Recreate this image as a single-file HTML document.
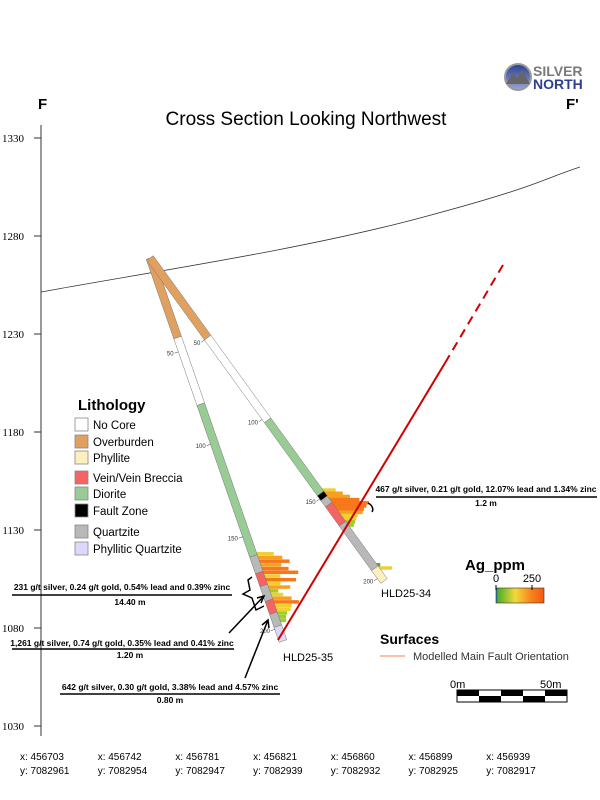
<!DOCTYPE html>
<html><head><meta charset="utf-8"><style>
html,body{margin:0;padding:0;background:#fff;}
svg{display:block;font-family:"Liberation Sans",sans-serif;}
</style></head><body>
<svg id="chart" width="600" height="800" viewBox="0 0 600 800">
<defs>
<linearGradient id="agGrad" x1="0" x2="1" y1="0" y2="0">
<stop offset="0" stop-color="#1f5fd0"/><stop offset="0.04" stop-color="#4caf2a"/><stop offset="0.4" stop-color="#f3d83a"/><stop offset="0.75" stop-color="#f7801c"/><stop offset="1" stop-color="#f25a10"/>
</linearGradient>
<linearGradient id="logoGrad" x1="0" y1="0" x2="0" y2="1"><stop offset="0" stop-color="#2c3f8f"/><stop offset="1" stop-color="#9aa6d8"/></linearGradient>
</defs>
<g id="logo">
<circle cx="518" cy="77" r="13" fill="url(#logoGrad)" stroke="#9a9a9a" stroke-width="2"/>
<path d="M506,84 L513,73 L517,78 L522,70 L530,84 Z" fill="#666"/>
<text x="533" y="76" font-size="14" font-weight="bold" fill="#7a7a7a">SILVER</text>
<text x="533" y="89" font-size="14" font-weight="bold" fill="#2c3f8f">NORTH</text>
</g>
<text x="38" y="109" font-size="15" font-weight="bold">F</text>
<text x="566" y="109" font-size="15" font-weight="bold">F'</text>
<text x="306" y="125" font-size="19" text-anchor="middle">Cross Section Looking Northwest</text>
<g id="yaxis"></g>
<g id="xlabels"></g>
<path d="M41,292 C150,272 300,250 420,218 S540,180 580,167" fill="none" stroke="#333" stroke-width="0.8"/>
<g id="holes"></g>
<line x1="278" y1="640" x2="445" y2="363" stroke="#d10000" stroke-width="2"/>
<line x1="445" y1="363" x2="503" y2="265" stroke="#d10000" stroke-width="2" stroke-dasharray="9,6"/>
<g id="legend">
<text x="78" y="410" font-size="15" font-weight="bold">Lithology</text>
</g>
<g font-size="8.5" font-weight="bold" text-anchor="middle">
<text x="122" y="590">231 g/t silver, 0.24 g/t gold, 0.54% lead and 0.39% zinc</text>
<line x1="12" y1="595" x2="232" y2="595" stroke="#000" stroke-width="1.5"/>
<text x="130" y="605">14.40 m</text>
<text x="122" y="646">1,261 g/t silver, 0.74 g/t gold, 0.35% lead and 0.41% zinc</text>
<line x1="12" y1="649" x2="234" y2="649" stroke="#000" stroke-width="1.5"/>
<text x="130" y="658">1.20 m</text>
<text x="170" y="690">642 g/t silver, 0.30 g/t gold, 3.38% lead and 4.57% zinc</text>
<line x1="60" y1="694" x2="280" y2="694" stroke="#000" stroke-width="1.5"/>
<text x="170" y="703">0.80 m</text>
<text x="486" y="492">467 g/t silver, 0.21 g/t gold, 12.07% lead and 1.34% zinc</text>
<line x1="376" y1="497" x2="597" y2="497" stroke="#000" stroke-width="1.5"/>
<text x="486" y="506">1.2 m</text>
</g>
<g fill="none" stroke="#000" stroke-width="1.5">
<path d="M252,577 L248,580 L250,590 L243,594 L252,598 L256,610 L264,606"/>
<line x1="229" y1="633" x2="264" y2="596"/><path d="M257,598 L264,596 L261,603"/>
<line x1="245" y1="678" x2="268" y2="620"/><path d="M262,625 L268,620 L269,628"/>
<path d="M368,503 C372,505 374,509 372,512"/>
</g>
<text x="283" y="661" font-size="11">HLD25-35</text>
<text x="381" y="597" font-size="11">HLD25-34</text>
<g>
<text x="465" y="570" font-size="15" font-weight="bold">Ag_ppm</text>
<text x="496" y="582" font-size="11" text-anchor="middle">0</text>
<text x="532" y="582" font-size="11" text-anchor="middle">250</text>
<rect x="496" y="588" width="48" height="15" fill="url(#agGrad)" stroke="#333" stroke-width="0.6"/>
<line x1="496" y1="585" x2="496" y2="590" stroke="#000"/><line x1="532" y1="585" x2="532" y2="590" stroke="#000"/>
</g>
<g>
<text x="380" y="644" font-size="14" font-weight="bold">Surfaces</text>
<line x1="380" y1="656" x2="405" y2="656" stroke="#f08050" stroke-width="1"/>
<text x="413" y="660" font-size="11" fill="#333">Modelled Main Fault Orientation</text>
</g>
<g>
<text x="450" y="688" font-size="11">0m</text>
<text x="540" y="688" font-size="11">50m</text>
<rect x="457" y="690" width="110" height="12" fill="#fff" stroke="#000"/>
<rect x="457" y="690" width="22" height="6" fill="#000"/><rect x="479" y="696" width="22" height="6" fill="#000"/>
<rect x="501" y="690" width="22" height="6" fill="#000"/><rect x="523" y="696" width="22" height="6" fill="#000"/>
<rect x="545" y="690" width="22" height="6" fill="#000"/>
</g>
</svg>
<script>
const yTicks=[1330,1280,1230,1180,1130,1080,1030];
const xEast=[456703,456742,456781,456821,456860,456899,456939];
const xNorth=[7082961,7082954,7082947,7082939,7082932,7082925,7082917];
const litho35Depths=[0,43,79,161,170,177,185,192,199,207];
const litho35Codes=["OB","NC","DI","QZ","VN","QZ","VN","QZ","PQ"];
const litho34Depths=[0,50,102,148,151,155,167,195,203];
const litho34Codes=["OB","NC","DI","FZ","QZ","VN","QZ","PH"];
const ag35Depths=[160,162,164,166,168,170,172,174,176,178,180,182,184,186,188,190,192,194,196];
const ag35Values=[150,210,260,180,230,300,140,260,120,190,80,110,170,220,150,130,90,70,60];
const ag34Depths=[146,148,150,152,154,156,158,160,162,164,166,168];
const ag34Values=[120,160,200,260,320,280,240,210,150,120,90,60];
const ag34bDepths=[193,195];
const ag34bValues=[40,120];
const legendNames=["No Core","Overburden","Phyllite","Vein/Vein Breccia","Diorite","Fault Zone","Quartzite","Phyllitic Quartzite"];
const legendCodes=["NC","OB","PH","VN","DI","FZ","QZ","PQ"];
const colors={NC:"#ffffff",OB:"#e0a060",PH:"#fdf0c0",VN:"#f46464",DI:"#98cc94",FZ:"#000000",QZ:"#b8b8b8",PQ:"#dcd8fa"};
const NS="http://www.w3.org/2000/svg";
function mk(tag,attrs,parent){const e=document.createElementNS(NS,tag);for(const k in attrs)e.setAttribute(k,attrs[k]);parent.appendChild(e);return e;}
function yScale(v){return 138+(1330-v)*1.96;}
const ya=document.getElementById('yaxis');
mk('line',{x1:41,y1:125,x2:41,y2:736,stroke:'#333','stroke-width':1},ya);
yTicks.forEach(v=>{const y=yScale(v);
 mk('line',{x1:34,y1:y,x2:41,y2:y,stroke:'#333'},ya);
 const t=mk('text',{x:24,y:y+4,'font-size':11,'text-anchor':'end','font-family':'Liberation Serif, serif'},ya);t.textContent=v;
 
 });
const xl=document.getElementById('xlabels');
xEast.forEach((v,i)=>{const x=20+i*77.7;
 const a=mk('text',{x:x,y:760,'font-size':10},xl);a.textContent='x: '+v;
 
 
 const b=mk('text',{x:x,y:774,'font-size':10},xl);b.textContent='y: '+xNorth[i];
 
 });
const holes=document.getElementById('holes');
function agColor(v){if(v<60)return '#4caf2a';if(v<110)return '#9ccf2a';if(v<160)return '#f0d030';if(v<220)return '#f7a020';return '#f6781a';}
function drawHole(name,c,e,len,depths,codes,agD,agV,ticks){
 const g=mk('g',{},holes);
 
 
 const dx=(e[0]-c[0])/len,dy=(e[1]-c[1])/len;const L=Math.hypot(dx,dy);const nx=-dy/L,ny=dx/L;
 const pt=d=>[c[0]+dx*d,c[1]+dy*d];
 const w=4;
 agD.forEach((d,i)=>{const p=pt(d);const bl=agV[i]*0.12;
  const r=mk('rect',{x:p[0]+3,y:p[1]-2,width:bl,height:3.5,fill:agColor(agV[i])},g);
  
  });
 for(let i=0;i<codes.length;i++){const a=pt(depths[i]),b=pt(depths[i+1]);
  const pts=[[a[0]+nx*w,a[1]+ny*w],[b[0]+nx*w,b[1]+ny*w],[b[0]-nx*w,b[1]-ny*w],[a[0]-nx*w,a[1]-ny*w]].map(p=>p.join(',')).join(' ');
  const s=mk('polygon',{points:pts,fill:colors[codes[i]],stroke:'#777','stroke-width':0.5},g);
  
  }
 ticks.forEach(t=>{const p=pt(t);
  mk('line',{x1:p[0]+nx*w,y1:p[1]+ny*w,x2:p[0]+nx*(w+4),y2:p[1]+ny*(w+4),stroke:'#333','stroke-width':0.5},g);
  const tx=mk('text',{x:p[0]+nx*(w+5),y:p[1]+ny*(w+5)+2,'font-size':6,'text-anchor':'end',fill:'#333'},g);tx.textContent=t;
  
  });
}
drawHole('hole-hld25-35',[150,258],[283,641],207,litho35Depths,litho35Codes,ag35Depths,ag35Values,[50,100,150,200]);
drawHole('hole-hld25-34',[150,258],[384,581],203,litho34Depths,litho34Codes,ag34Depths.concat(ag34bDepths),ag34Values.concat(ag34bValues),[50,100,150,200]);
const lg=document.getElementById('legend');
const ly=[418,435,451,471,487,504,525,542];
legendNames.forEach((n,i)=>{
 const r=mk('rect',{x:75,y:ly[i],width:13,height:13,fill:colors[legendCodes[i]],stroke:'#888','stroke-width':0.8},lg);
 
 
 const t=mk('text',{x:93,y:ly[i]+11,'font-size':11.5},lg);t.textContent=n;
 
 });
</script>
</body></html>
